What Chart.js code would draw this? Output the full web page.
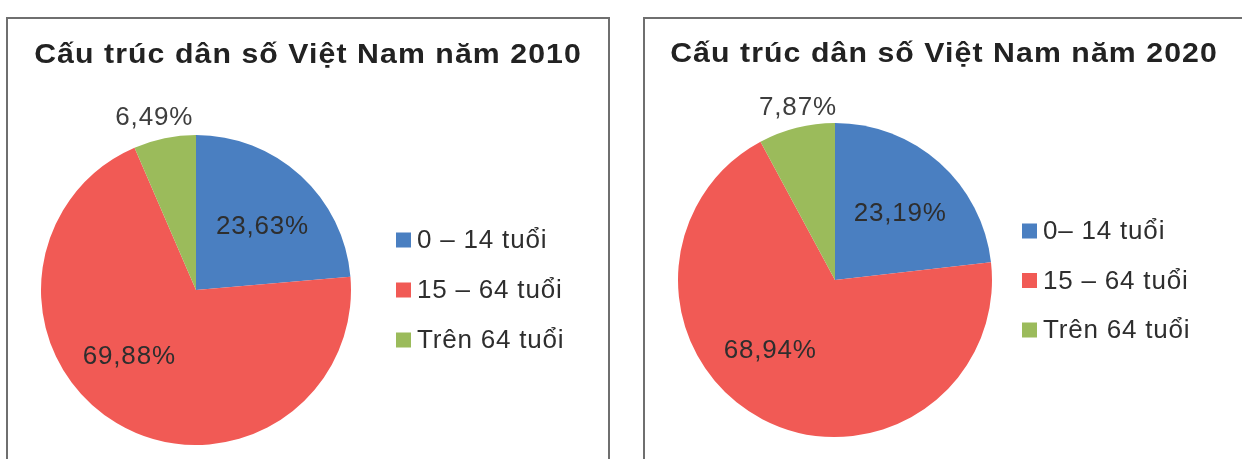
<!DOCTYPE html>
<html lang="vi">
<head>
<meta charset="utf-8">
<title>Cấu trúc dân số Việt Nam</title>
<script src="https://cdn.jsdelivr.net/npm/chart.js@4.4.1/dist/chart.umd.min.js"></script>
<style>
  html, body { margin: 0; padding: 0; background: #ffffff; overflow: hidden; }
  body { width: 1242px; height: 459px; position: relative; }
  .panel {
    position: absolute; top: 17px; height: 460px;
    box-sizing: border-box; border: 2px solid #6f6f6f; background: #fff;
  }
  #panel2010 { left: 6px; width: 604px; }
  #panel2020 { left: 643px; width: 602px; }
  .panel canvas { position: absolute; left: 0; top: 0; }
</style>
</head>
<body>
<div class="panel" id="panel2010"><canvas id="pie2010" width="600" height="440"></canvas></div>
<div class="panel" id="panel2020"><canvas id="pie2020" width="598" height="440"></canvas></div>
<script>
// Age groups and their share of the population (%)
const categories2010 = ['0 – 14 tuổi', '15 – 64 tuổi', 'Trên 64 tuổi'];
const categories2020 = ['0– 14 tuổi', '15 – 64 tuổi', 'Trên 64 tuổi'];
const shares2010 = [23.63, 69.88, 6.49];
const shares2020 = [23.19, 68.94, 7.87];
const title2010 = 'Cấu trúc dân số Việt Nam năm 2010';
const title2020 = 'Cấu trúc dân số Việt Nam năm 2020';

const sliceColors = ['#4a7fc1', '#f15a55', '#9bbb5b'];
const FONT = '"Liberation Sans", Arial, Helvetica, sans-serif';

const formatShare = v => v.toFixed(2).replace('.', ',') + '%';

// Draws the heading, the percentage labels and the side legend.
const annotatePie = {
  id: 'annotatePie',
  afterDatasetsDraw(chart, args, opts) {
    const ctx = chart.ctx;
    const meta = chart.getDatasetMeta(0);
    const values = chart.data.datasets[0].data;
    const colors = chart.data.datasets[0].backgroundColor;

    // heading, set in a slightly wide bold face
    ctx.save();
    ctx.font = 'bold 28px ' + FONT;
    ctx.letterSpacing = '1px';
    ctx.fillStyle = '#222222';
    ctx.textAlign = 'center';
    ctx.textBaseline = 'alphabetic';
    ctx.translate(chart.width / 2 + opts.headingDx, opts.headingY);
    ctx.scale(1.08, 1);
    ctx.fillText(opts.heading, 0, 0);
    ctx.restore();

    ctx.save();
    // value labels
    ctx.font = '26px ' + FONT;
    ctx.letterSpacing = '0.8px';
    ctx.textAlign = 'center';
    ctx.textBaseline = 'middle';
    meta.data.forEach((arc, i) => {
      const p = arc.getProps(['x', 'y', 'startAngle', 'endAngle', 'outerRadius'], true);
      const place = opts.placement[i];
      const mid = (p.startAngle + p.endAngle) / 2 + place.nudge * Math.PI / 180;
      const r = p.outerRadius * place.frac;
      ctx.fillStyle = place.frac > 1 ? '#3e3e3e' : '#2e2e2e';
      ctx.fillText(formatShare(values[i]), p.x + Math.cos(mid) * r, p.y + Math.sin(mid) * r);
    });

    // legend
    ctx.letterSpacing = '0.8px';
    ctx.textAlign = 'left';
    chart.data.labels.forEach((label, i) => {
      const y = opts.legend.y + i * opts.legend.step;
      ctx.fillStyle = colors[i];
      ctx.fillRect(opts.legend.x, y - 7.5, 15, 15);
      ctx.fillStyle = '#2e2e2e';
      ctx.fillText(label, opts.legend.textX, y + 1);
    });
    ctx.restore();
  }
};

function makePie(canvasId, labels, values, heading, padding, extra) {
  return new Chart(document.getElementById(canvasId), {
    type: 'pie',
    data: {
      labels: labels,
      datasets: [{
        data: values,
        backgroundColor: sliceColors,
        borderWidth: 0,
        hoverOffset: 0
      }]
    },
    options: {
      responsive: false,
      animation: false,
      rotation: 0,
      layout: { padding: padding },
      plugins: {
        legend: { display: false },
        title: { display: false },
        tooltip: { enabled: false },
        annotatePie: Object.assign({ heading: heading }, extra)
      }
    },
    plugins: [annotatePie]
  });
}

makePie('pie2010', categories2010, shares2010, title2010,
  { left: 33, right: 257, top: 116, bottom: 14 },
  {
    headingDx: 0, headingY: 44,
    placement: [{ frac: 0.59, nudge: 4 }, { frac: 0.61, nudge: 14 }, { frac: 1.14, nudge: -2 }],
    legend: { x: 388, textX: 409, y: 221, step: 50 }
  });

makePie('pie2020', categories2020, shares2020, title2020,
  { left: 33, right: 251, top: 104, bottom: 22 },
  {
    headingDx: 0, headingY: 43,
    placement: [{ frac: 0.59, nudge: 3 }, { frac: 0.61, nudge: 15 }, { frac: 1.12, nudge: 2 }],
    legend: { x: 377, textX: 398, y: 212, step: 49.5 }
  });
</script>
</body>
</html>
